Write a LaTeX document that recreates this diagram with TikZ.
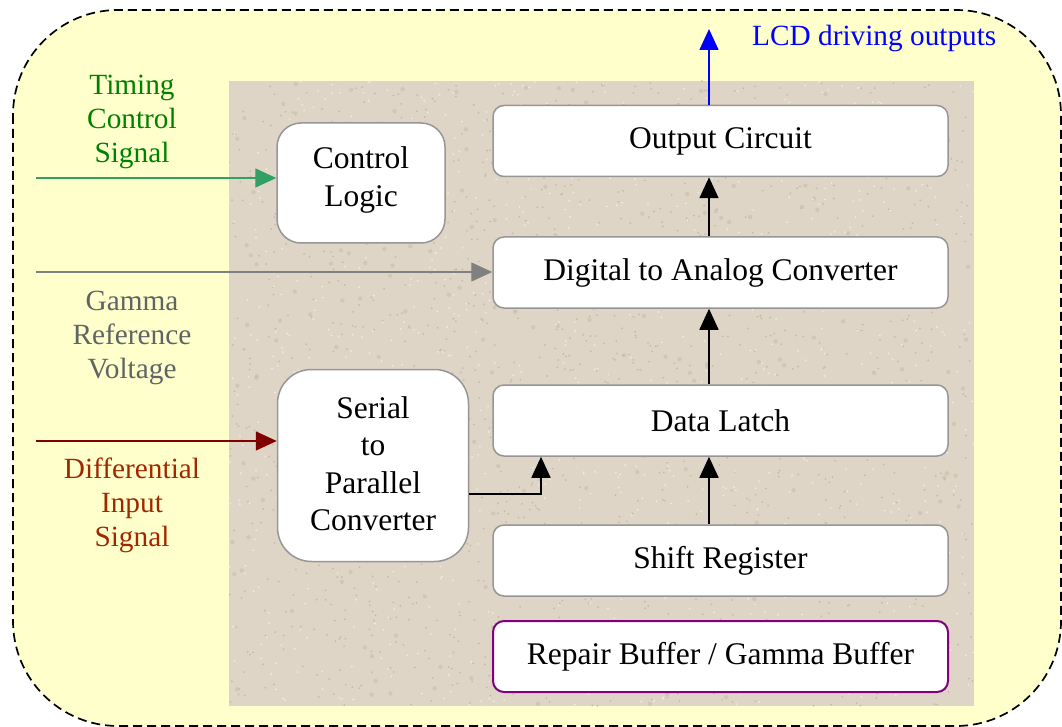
\documentclass[tikz,border=0pt]{standalone}
\usepackage{fontspec}
\setmainfont{Liberation Serif}
\usetikzlibrary{arrows.meta}

\definecolor{paleyellow}{RGB}{255,255,204}
\definecolor{sand}{RGB}{223,213,199}
\definecolor{sanddark}{RGB}{200,185,166}
\definecolor{sandlight}{RGB}{240,234,226}
\definecolor{boxgray}{RGB}{150,150,150}
\definecolor{bufpurple}{RGB}{128,0,128}
\definecolor{timegreen}{RGB}{0,128,0}
\definecolor{timearrow}{RGB}{50,160,100}
\definecolor{gammatext}{RGB}{95,100,100}
\definecolor{gammaarrow}{RGB}{128,128,128}
\definecolor{difftext}{RGB}{160,40,0}
\definecolor{diffarrow}{RGB}{128,0,0}

\tikzset{
  block/.style={draw=boxgray, line width=1.5pt, fill=white, inner sep=0pt,
    align=center, font=\fontsize{31.5}{37.5}\selectfont},
  wide/.style={block, rounded corners=11pt, minimum width=455pt, minimum height=71pt},
  sidelabel/.style={align=center, font=\fontsize{29.3}{34}\selectfont, inner sep=0pt},
  flow/.style={line width=1.6pt, -{Triangle[length=21pt,width=19pt]}},
}

\begin{document}
\begin{tikzpicture}[x=1pt,y=-1pt]
\useasboundingbox (0,0) rectangle (1062,727);

% outer dashed chip outline
\draw[fill=paleyellow, line width=1.7pt, dash pattern=on 9pt off 5pt, rounded corners=105pt]
  (13,10) rectangle (1061,726);

% textured die area
\fill[sand] (229,81) rectangle (974,706);
\begin{scope}
  \clip (229,81) rectangle (974,706);
  \pgfmathsetseed{7}
  \foreach \i in {1,...,1400}{
    \pgfmathsetmacro\px{229+745*rnd}
    \pgfmathsetmacro\py{81+625*rnd}
    \fill[sanddark] (\px,\py) circle (1pt);
  }
  \foreach \i in {1,...,250}{
    \pgfmathsetmacro\px{229+745*rnd}
    \pgfmathsetmacro\py{81+625*rnd}
    \fill[sanddark, opacity=0.5] (\px,\py) circle (2.2pt);
  }
  \foreach \i in {1,...,1000}{
    \pgfmathsetmacro\px{229+745*rnd}
    \pgfmathsetmacro\py{81+625*rnd}
    \fill[sandlight] (\px,\py) circle (1pt);
  }
\end{scope}

% blocks
\node[wide] (out)   at (720.5,141) {Output Circuit};
\node[wide] (dac)   at (720.5,272.5) {Digital to Analog Converter};
\node[wide] (latch) at (720.5,420.5) {Data Latch};
\node[wide] (shift) at (720.5,560.5) {Shift Register};
\node[wide, draw=bufpurple, line width=2pt] (buf) at (720.5,656.5) {Repair Buffer / Gamma Buffer};
\node[block, rounded corners=24pt, minimum width=168pt, minimum height=120pt] (ctrl) at (361,183)
  {\parbox{160pt}{\centering Control\\Logic\vspace{6pt}}};
\node[block, rounded corners=34pt, minimum width=191pt, minimum height=192pt] (s2p) at (373,465.5)
  {\parbox{180pt}{\centering Serial\\to\\Parallel\\Converter\vspace{4pt}}};

% input labels
\node[sidelabel, text=timegreen]  (tlab) at (132,122) {Timing\\Control\\Signal};
\node[sidelabel, text=gammatext]  (glab) at (132,338) {Gamma\\Reference\\Voltage};
\node[sidelabel, text=difftext]   (dlab) at (132,505) {Differential\\Input\\Signal};
\node[sidelabel, text=blue, anchor=west] (olab) at (752,38) {LCD driving outputs};

% input connectors
\coordinate (tin) at (36,178);
\coordinate (gin) at (36,272);
\coordinate (din) at (36,441);
\coordinate (lcd) at (709,29);
\draw[flow, draw=timearrow, fill=timearrow, line width=1.4pt] (tin) -- (tin -| ctrl.west);
\draw[flow, draw=gammaarrow, fill=gammaarrow, line width=1.4pt] (gin) -- (gin -| dac.west);
\draw[flow, draw=diffarrow, fill=diffarrow, line width=1.4pt] (din) -- (din -| s2p.west);

% internal data path
\draw[flow] ([yshift=-28.5pt]s2p.east) -| ([xshift=-179.5pt]latch.south);
\draw[flow] ([xshift=-11.5pt]shift.north) -- ([xshift=-11.5pt]latch.south);
\draw[flow] ([xshift=-11.5pt]latch.north) -- ([xshift=-11.5pt]dac.south);
\draw[flow] ([xshift=-11.5pt]dac.north) -- ([xshift=-11.5pt]out.south);
\draw[flow, draw=blue, fill=blue] ([xshift=-11.5pt]out.north) -- (lcd);
\end{tikzpicture}
\end{document}
